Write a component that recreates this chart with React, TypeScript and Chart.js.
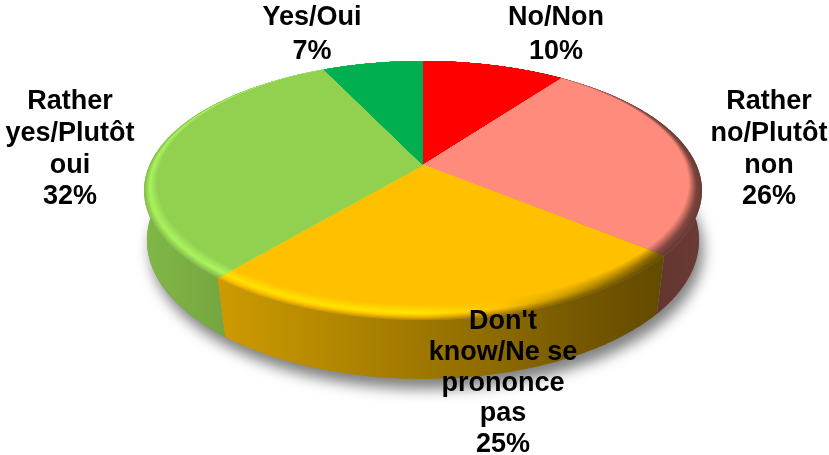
import React, { useEffect, useRef } from "react";
import { Chart, registerables } from "chart.js";

Chart.register(...registerables);

const categories = ["No/Non", "Rather no/Plutôt non", "Don't know/Ne se prononce pas", "Rather yes/Plutôt oui", "Yes/Oui"];
const shares = [10, 26, 25, 32, 7];
const colours = ["#ff0000", "#ff8b7c", "#ffc000", "#92d050", "#00b050"];
const labelLines = [
  ["No/Non", "10%"],
  ["Rather", "no/Plutôt", "non", "26%"],
  ["Don't", "know/Ne se", "prononce", "pas", "25%"],
  ["Rather", "yes/Plutôt", "oui", "32%"],
  ["Yes/Oui", "7%"],
];

type Proj = { cx: number; cy: number; a: number; b: number; k: number };
const CX = 423;
const OUTER: Proj = { cx: CX, cy: 165, a: 124.5, b: 273.5, k: 0.197 };
const INNER: Proj = { cx: CX, cy: 165, a: 119.3, b: 263, k: 0.1475 };
const BASE: Proj = { cx: CX, cy: 218, a: 135.2, b: 272.5, k: 0.16 };

const labelPos = [
  { x: 556, ys: [18, 52] },
  { x: 769, ys: [102, 134, 166, 197] },
  { x: 503, ys: [322, 353, 384, 414, 445] },
  { x: 70, ys: [102, 134, 166, 197] },
  { x: 312, ys: [18, 52] },
];

const pt = (p: Proj, ang: number): [number, number] => {
  const x = Math.cos(ang);
  const y = -Math.sin(ang);
  const w = 1 + p.k * y;
  return [p.cx + (p.b * x) / w, p.cy - (p.a * y) / w];
};
const mix = (p: Proj, q: Proj, t: number): Proj => ({
  cx: p.cx,
  cy: p.cy + (q.cy - p.cy) * t,
  a: p.a + (q.a - p.a) * t,
  b: p.b + (q.b - p.b) * t,
  k: p.k + (q.k - p.k) * t,
});
const hexRgb = (h: string) => [1, 3, 5].map((i) => parseInt(h.slice(i, i + 2), 16));
const shade = (hex: string, f: number) => {
  const [r, g, b] = hexRgb(hex).map((c) => Math.min(255, Math.round(c * f)));
  return `rgb(${r},${g},${b})`;
};
const GX = [145, 225, 423, 500, 580, 660, 702];
const SIDE = [0.88, 0.8, 0.62, 0.55, 0.46, 0.39, 0.42];
const LIT = [1.16, 1.18, 1.2, 1.02, 0.76, 0.52, 0.48];
const EDGE = [0.92, 0.88, 0.74, 0.64, 0.5, 0.4, 0.42];

const hGrad = (ctx: CanvasRenderingContext2D, hex: string, fs: number[]) => {
  const g = ctx.createLinearGradient(GX[0], 0, GX[GX.length - 1], 0);
  GX.forEach((x, i) => g.addColorStop((x - GX[0]) / (GX[GX.length - 1] - GX[0]), shade(hex, fs[i])));
  return g;
};
const slicePath = (ctx: CanvasRenderingContext2D, p: Proj, s: number, e: number) => {
  ctx.beginPath();
  ctx.moveTo(p.cx, p.cy);
  const n = Math.ceil((e - s) / 0.01);
  for (let i = 0; i <= n; i++) {
    const [x, y] = pt(p, s + ((e - s) * i) / n);
    ctx.lineTo(x, y);
  }
  ctx.closePath();
};

const pie3d = {
  id: "pie3d",
  beforeDatasetDraw(chart: any) {
    const ctx: CanvasRenderingContext2D = chart.ctx;
    const arcs = chart.getDatasetMeta(0).data as any[];
    ctx.save();
    // soft cast shadow under the disc
    ctx.save();
    ctx.shadowColor = "rgba(0,0,0,0.5)";
    ctx.shadowBlur = 14;
    ctx.shadowOffsetY = 10;
    ctx.shadowOffsetX = 4;
    ctx.fillStyle = "#888";
    ctx.beginPath();
    for (let i = 0; i <= 360; i++) {
      const [x, y] = pt(BASE, (i * Math.PI) / 180);
      if (i === 0) ctx.moveTo(x, y);
      else ctx.lineTo(x, y);
    }
    ctx.closePath();
    ctx.fill();
    ctx.restore();
    // side walls
    arcs.forEach((arc, idx) => {
      const { startAngle: s, endAngle: e } = arc;
      ctx.beginPath();
      const n = Math.ceil((e - s) / 0.01);
      for (let i = 0; i <= n; i++) {
        const [x, y] = pt(OUTER, s + ((e - s) * i) / n);
        if (i === 0) ctx.moveTo(x, y);
        else ctx.lineTo(x, y);
      }
      for (let i = n; i >= 0; i--) {
        const [x, y] = pt(BASE, s + ((e - s) * i) / n);
        ctx.lineTo(x, y);
      }
      ctx.closePath();
      ctx.fillStyle = hGrad(ctx, colours[idx], SIDE);
      ctx.fill();
    });
    // bevel rings then the flat face
    const RINGS = 14;
    arcs.forEach((arc, idx) => {
      const { startAngle: s, endAngle: e } = arc;
      for (let r = 0; r <= RINGS; r++) {
        const t = r / RINGS;
        const fs = GX.map((_, i) =>
          t < 0.4
            ? EDGE[i] + (LIT[i] - EDGE[i]) * (t / 0.4)
            : LIT[i] + (1 - LIT[i]) * ((t - 0.4) / 0.6)
        );
        slicePath(ctx, mix(OUTER, INNER, t), s, e);
        ctx.fillStyle = r === RINGS ? colours[idx] : hGrad(ctx, colours[idx], fs);
        ctx.fill();
      }
    });
    ctx.restore();
    return false;
  },
  afterDatasetsDraw(chart: any) {
    const ctx: CanvasRenderingContext2D = chart.ctx;
    ctx.save();
    ctx.font = 'bold 27px "Liberation Sans", Arial, sans-serif';
    ctx.fillStyle = "#000";
    ctx.textAlign = "center";
    ctx.textBaseline = "middle";
    labelLines.forEach((lines, i) => {
      lines.forEach((line, j) => ctx.fillText(line, labelPos[i].x, labelPos[i].ys[j]));
    });
    ctx.restore();
  },
};

export default function App() {
  const ref = useRef<HTMLCanvasElement>(null);
  useEffect(() => {
    const chart = new Chart(ref.current!, {
      type: "pie",
      data: {
        labels: categories,
        datasets: [{ data: shares, backgroundColor: colours, borderWidth: 0 }],
      },
      options: {
        animation: false,
        responsive: false,
        plugins: { legend: { display: false }, tooltip: { enabled: false } },
      },
      plugins: [pie3d],
    } as any);
    return () => chart.destroy();
  }, []);
  return (
    <canvas
      ref={ref}
      width={829}
      height={455}
      style={{ position: "absolute", left: 0, top: 0, width: 829, height: 455, display: "block", background: "#fff" }}
    />
  );
}
